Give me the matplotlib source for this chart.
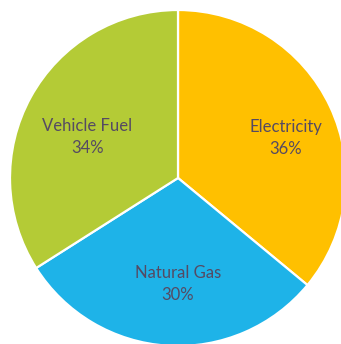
import matplotlib.pyplot as plt

# Energy use by type (percent)
categories = ["Electricity", "Natural Gas", "Vehicle Fuel"]
shares = [36, 30, 34]
colors = ["#FFC000", "#1EB3E8", "#B4CB36"]

labels = [f"{c}\n{s}%" for c, s in zip(categories, shares)]

# where each label sits inside its wedge (axes data units)
label_pos = [(0.64, 0.24), (0.0, -0.63), (-0.54, 0.245)]

fig = plt.figure(figsize=(3.41, 3.44), dpi=100)
ax = fig.add_axes([10 / 341, -2 / 344, 336 / 341, 336 / 344])

wedges, texts = ax.pie(
    shares,
    labels=labels,
    colors=colors,
    startangle=90,
    counterclock=False,
    wedgeprops=dict(edgecolor="white", linewidth=1.6),
    textprops=dict(fontsize=12, color="#554A63", family="Lato", linespacing=1.45),
)
for t, (x, y) in zip(texts, label_pos):
    t.set_position((x, y))
    t.set_horizontalalignment("center")
    t.set_verticalalignment("center")

ax.set_xlim(-1, 1)
ax.set_ylim(-1, 1)
ax.set_aspect("equal")
ax.axis("off")

fig.savefig("out.png", dpi=100)
